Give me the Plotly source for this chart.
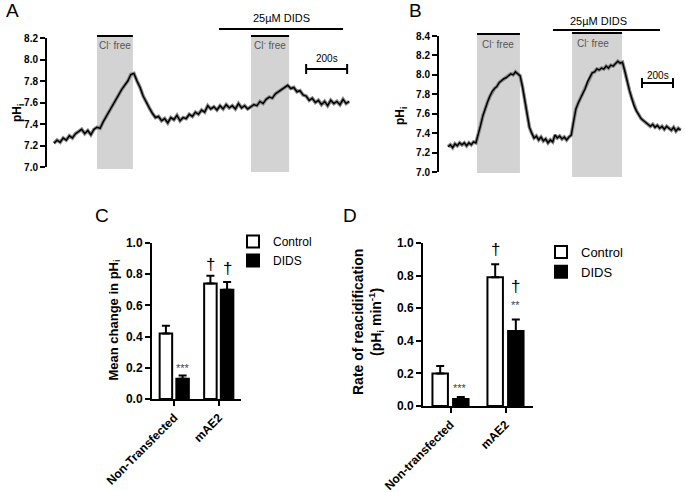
import plotly.graph_objects as go

W, H = 685, 492
FONT = "Arial, Liberation Sans, sans-serif"

# ---------------- data ----------------
# Panel A: pHi trace, one sample every 15 s (starting at 0 s)
pH_A = [
    7.22, 7.25, 7.23, 7.27, 7.25, 7.29, 7.27, 7.31, 7.33, 7.35,
    7.31, 7.34, 7.30, 7.35, 7.37, 7.36, 7.42, 7.47, 7.52, 7.58,
    7.62, 7.67, 7.72, 7.76, 7.80, 7.86, 7.87, 7.80, 7.74, 7.66,
    7.60, 7.55, 7.50, 7.46, 7.47, 7.43, 7.45, 7.41, 7.46, 7.44,
    7.48, 7.43, 7.46, 7.45, 7.49, 7.47, 7.51, 7.49, 7.53, 7.51,
    7.57, 7.54, 7.56, 7.53, 7.57, 7.54, 7.58, 7.55, 7.57, 7.54,
    7.59, 7.55, 7.57, 7.54, 7.56, 7.58, 7.57, 7.61, 7.59, 7.63,
    7.65, 7.64, 7.68, 7.70, 7.72, 7.74, 7.76, 7.73, 7.74, 7.70,
    7.71, 7.67, 7.66, 7.62, 7.64, 7.60, 7.62, 7.58, 7.61, 7.57,
    7.62, 7.59, 7.61, 7.58, 7.63, 7.59, 7.61,
]
# Panel B: pHi trace, one sample every 15 s (starting at 0 s)
pH_B = [
    7.26, 7.28, 7.25, 7.29, 7.27, 7.30, 7.28, 7.30, 7.27, 7.30,
    7.28, 7.31, 7.30, 7.38, 7.48, 7.58, 7.66, 7.72, 7.78, 7.83,
    7.86, 7.88, 7.92, 7.94, 7.96, 7.97, 7.99, 8.01, 8.00, 8.03,
    8.01, 7.99, 7.88, 7.74, 7.58, 7.46, 7.40, 7.35, 7.37, 7.33,
    7.36, 7.32, 7.34, 7.30, 7.33, 7.31, 7.38, 7.35, 7.37, 7.34,
    7.36, 7.33, 7.36, 7.38, 7.52, 7.65, 7.71, 7.76, 7.82, 7.86,
    7.93, 7.98, 8.02, 8.03, 8.06, 8.05, 8.07, 8.06, 8.09, 8.07,
    8.10, 8.09, 8.12, 8.14, 8.12, 8.13, 8.04, 7.93, 7.84, 7.76,
    7.68, 7.63, 7.59, 7.55, 7.53, 7.51, 7.49, 7.47, 7.49, 7.46,
    7.48, 7.45, 7.47, 7.44, 7.47, 7.45, 7.43, 7.46, 7.42, 7.45,
    7.43,
]
SAMPLE_STEP_S = 15
t_A = [i * SAMPLE_STEP_S for i in range(len(pH_A))]
t_B = [i * SAMPLE_STEP_S for i in range(len(pH_B))]

# Experimental periods (s)
A_clfree = [(210, 385), (961, 1147)]
A_dids = (805, 1410)
A_scale = (1230, 1430)
B_clfree = [(187, 464), (800, 1122)]
B_dids = (677, 1367)
B_scale = (1251, 1451)

# Panel C
cat_C = ["Non-Transfected", "mAE2"]
C_control = [0.42, 0.74]
C_control_err = [0.05, 0.05]
C_dids = [0.13, 0.70]
C_dids_err = [0.02, 0.05]

# Panel D
cat_D = ["Non-transfected", "mAE2"]
D_control = [0.20, 0.79]
D_control_err = [0.045, 0.08]
D_dids = [0.043, 0.46]
D_dids_err = [0.012, 0.07]


# ---------------- helpers (pixel -> paper) ----------------
def px(x):
    return x / W


def py(y):
    return 1 - y / H


fig = go.Figure()

# traces A / B (gray halo + black core for the noisy recording look)
for t, v, xa, ya in [(t_A, pH_A, "x", "y"), (t_B, pH_B, "x2", "y2")]:
    fig.add_trace(go.Scatter(x=t, y=v, xaxis=xa, yaxis=ya, mode="lines",
                             line=dict(color="#8a8a8a", width=3.6),
                             showlegend=False, hoverinfo="skip"))
    fig.add_trace(go.Scatter(x=t, y=v, xaxis=xa, yaxis=ya, mode="lines",
                             line=dict(color="black", width=1.5),
                             showlegend=False))

# bars C
fig.add_trace(go.Bar(x=cat_C, y=C_control, name="Control", xaxis="x3", yaxis="y3",
                     marker=dict(color="white", line=dict(color="black", width=2)),
                     error_y=dict(type="data", symmetric=False, array=C_control_err,
                                  arrayminus=[0, 0], color="black", thickness=2, width=4),
                     legend="legend"))
fig.add_trace(go.Bar(x=cat_C, y=C_dids, name="DIDS", xaxis="x3", yaxis="y3",
                     marker=dict(color="black", line=dict(color="black", width=2)),
                     error_y=dict(type="data", symmetric=False, array=C_dids_err,
                                  arrayminus=[0, 0], color="black", thickness=2, width=4),
                     legend="legend"))
# bars D
fig.add_trace(go.Bar(x=cat_D, y=D_control, name="Control", xaxis="x4", yaxis="y4",
                     marker=dict(color="white", line=dict(color="black", width=2)),
                     error_y=dict(type="data", symmetric=False, array=D_control_err,
                                  arrayminus=[0, 0], color="black", thickness=2, width=4),
                     legend="legend2"))
fig.add_trace(go.Bar(x=cat_D, y=D_dids, name="DIDS", xaxis="x4", yaxis="y4",
                     marker=dict(color="black", line=dict(color="black", width=2)),
                     error_y=dict(type="data", symmetric=False, array=D_dids_err,
                                  arrayminus=[0, 0], color="black", thickness=2, width=4),
                     legend="legend2"))

shapes = []
annotations = []


def hline(xref, x0, x1, ypx, width=2):
    shapes.append(dict(type="line", xref=xref, yref="paper", x0=x0, x1=x1,
                       y0=py(ypx), y1=py(ypx), line=dict(color="black", width=width)))


def vline(xref, x, y0px, y1px, width=2):
    shapes.append(dict(type="line", xref=xref, yref="paper", x0=x, x1=x,
                       y0=py(y0px), y1=py(y1px), line=dict(color="black", width=width)))


def text(xref, x, ypx, s, size=10, color="black"):
    annotations.append(dict(xref=xref, yref="paper", x=x, y=py(ypx),
                            text=s, showarrow=False, yanchor="middle", xanchor="center",
                            font=dict(family=FONT, size=size, color=color)))


CL = "Cl<sup>-</sup> free"

# Panel A decorations
band_A_bottom = [169, 172]
for (a, b), bot in zip(A_clfree, band_A_bottom):
    shapes.append(dict(type="rect", xref="x", yref="paper", x0=a, x1=b,
                       y0=py(bot), y1=py(36), fillcolor="#d3d3d3",
                       line=dict(width=0), layer="below"))
    hline("x", a, b, 36)
    text("x", (a + b) / 2, 45, CL, size=10, color="#555")
hline("x", A_dids[0], A_dids[1], 29)
text("x", sum(A_dids) / 2, 18, "25µM DIDS", size=11)
hline("x", A_scale[0], A_scale[1], 69)
vline("x", A_scale[0], 64, 74)
vline("x", A_scale[1], 64, 74)
text("x", sum(A_scale) / 2, 59, "200s", size=10)

# Panel B decorations
band_B = [(173, 34), (177, 33)]
for (a, b), (bot, top) in zip(B_clfree, band_B):
    shapes.append(dict(type="rect", xref="x2", yref="paper", x0=a, x1=b,
                       y0=py(bot), y1=py(top), fillcolor="#d3d3d3",
                       line=dict(width=0), layer="below"))
    hline("x2", a, b, top)
text("x2", sum(B_clfree[0]) / 2, 44, CL, size=10, color="#555")
text("x2", 935, 43, CL, size=10, color="#555")
hline("x2", B_dids[0], B_dids[1], 30)
text("x2", 968, 21, "25µM DIDS", size=11)
hline("x2", B_scale[0], B_scale[1], 83)
vline("x2", B_scale[0], 78, 88)
vline("x2", B_scale[1], 78, 88)
text("x2", sum(B_scale) / 2, 75, "200s", size=10)

# Panel letters
for lbl, x, y in [("A", 12, 11), ("B", 415, 11), ("C", 102, 216), ("D", 350, 216)]:
    text("paper", px(x), y, lbl, size=19)

# y-axis titles
annotations.append(dict(xref="paper", yref="paper", x=px(8), y=py(102), text="<b>pH<sub>i</sub></b>",
                        textangle=-90, showarrow=False, font=dict(family=FONT, size=12)))
annotations.append(dict(xref="paper", yref="paper", x=px(401), y=py(105), text="<b>pH<sub>i</sub></b>",
                        textangle=-90, showarrow=False, font=dict(family=FONT, size=12)))
annotations.append(dict(xref="paper", yref="paper", x=px(103), y=py(320),
                        text="<b>Mean change in pH<sub>i</sub></b>",
                        textangle=-90, showarrow=False, font=dict(family=FONT, size=13)))
annotations.append(dict(xref="paper", yref="paper", x=px(368), y=py(322),
                        text="<b>Rate of reacidification<br>(pH<sub>i</sub> min<sup>-1</sup>)</b>",
                        textangle=-90, showarrow=False, font=dict(family=FONT, size=14)))


# significance marks
def mark(xref, yref, x, y, s, size, yanchor="bottom", color="black"):
    annotations.append(dict(xref=xref, yref=yref, x=x, y=y, text=s, showarrow=False,
                            yanchor=yanchor, xanchor="center",
                            font=dict(family=FONT, size=size, color=color)))


mark("x3", "y3", 0.807, 0.79, "†", 17)
mark("x3", "y3", 1.193, 0.76, "†", 17)
mark("x3", "y3", 0.193, 0.20, "***", 11, "middle", "#444")
mark("x4", "y4", 0.82, 0.89, "†", 17)
mark("x4", "y4", 1.18, 0.66, "†", 17)
mark("x4", "y4", 1.18, 0.62, "**", 11, "middle", "#444")
mark("x4", "y4", 0.18, 0.11, "***", 11, "middle", "#444")

tickfont_small = dict(family=FONT, size=10, color="black", weight="bold")
tickfont_big = dict(family=FONT, size=12, color="black", weight="bold")

common_y = dict(showline=True, linecolor="black", linewidth=2, ticks="outside",
                ticklen=5, tickwidth=2, tickcolor="black", showgrid=False,
                zeroline=False, tickformat=".1f", automargin=False)
hidden_x = dict(visible=False, showgrid=False, zeroline=False, automargin=False)
cat_x = dict(showline=True, linecolor="black", linewidth=2, ticks="outside", ticklen=5,
             tickwidth=2, tickcolor="black", tickangle=-45, tickfont=tickfont_big,
             showgrid=False, zeroline=False, automargin=False)

fig.update_layout(
    width=W, height=H,
    margin=dict(l=0, r=0, t=0, b=0, pad=0, autoexpand=False),
    paper_bgcolor="white", plot_bgcolor="rgba(0,0,0,0)",
    font=dict(family=FONT, color="black"),
    barmode="group",
    xaxis=dict(domain=[px(47), px(350)], range=[-34, 1444], **hidden_x),
    yaxis=dict(domain=[py(167), py(38)], range=[7.0, 8.2], dtick=0.2,
               tickfont=tickfont_small, anchor="x", **common_y),
    xaxis2=dict(domain=[px(439), px(682)], range=[-58, 1509], anchor="y2", **hidden_x),
    yaxis2=dict(domain=[py(172), py(36)], range=[7.0, 8.4], dtick=0.2,
                tickfont=tickfont_small, anchor="x2", **common_y),
    xaxis3=dict(domain=[px(152), px(241)], anchor="y3", **cat_x),
    yaxis3=dict(domain=[py(399), py(243)], range=[0, 1.0], dtick=0.2, anchor="x3",
                tickfont=tickfont_big, **common_y),
    xaxis4=dict(domain=[px(423), px(533)], anchor="y4", **cat_x),
    yaxis4=dict(domain=[py(406), py(243)], range=[0, 1.0], dtick=0.2, anchor="x4",
                tickfont=tickfont_big, **common_y),
    bargap=0.25,
    bargroupgap=0.25,
    legend=dict(x=px(233), y=py(227), xanchor="left", yanchor="top",
                font=dict(family=FONT, size=12), bgcolor="rgba(0,0,0,0)"),
    legend2=dict(x=px(541), y=py(237), xanchor="left", yanchor="top",
                 font=dict(family=FONT, size=13), bgcolor="rgba(0,0,0,0)"),
    shapes=shapes,
    annotations=annotations,
)

fig.write_html(
    "out.html",
    config={"displayModeBar": False},
    post_script="document.body.style.margin='0';document.body.style.overflow='hidden';",
)
